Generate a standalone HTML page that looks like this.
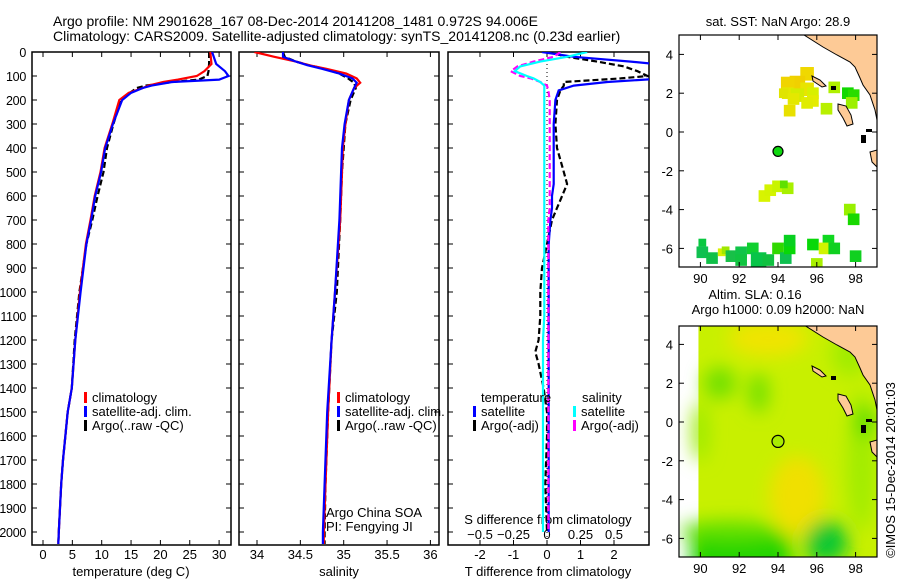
<!DOCTYPE html>
<html><head><meta charset="utf-8">
<style>
html,body{margin:0;padding:0;background:#fff;}
svg{display:block;font-family:"Liberation Sans",sans-serif;}
text{fill:#000;}
</style></head>
<body>
<svg id="fig" width="900" height="580" viewBox="0 0 900 580" xmlns="http://www.w3.org/2000/svg">
<defs>
<clipPath id="c1"><rect x="32" y="52" width="199" height="493"/></clipPath>
<clipPath id="c2"><rect x="239" y="52" width="200" height="493"/></clipPath>
<clipPath id="c3"><rect x="448" y="52" width="201" height="493"/></clipPath>
<clipPath id="cm1"><rect x="679" y="35" width="198" height="232"/></clipPath>
<clipPath id="cm2"><rect x="679" y="326" width="198" height="231"/></clipPath>
<filter id="blur" x="-50%" y="-50%" width="200%" height="200%"><feGaussianBlur stdDeviation="9"/></filter>
</defs>
<text x="53" y="26" font-size="14">Argo profile: NM 2901628_167 08-Dec-2014 20141208_1481 0.972S 94.006E</text>
<text x="53" y="41" font-size="14">Climatology: CARS2009. Satellite-adjusted climatology: synTS_20141208.nc (0.23d earlier)</text>
<g id="root"></g>
<text font-size="13" transform="translate(895,470) rotate(-90)" text-anchor="middle">©IMOS 15-Dec-2014 20:01:03</text>
</svg>
<script>
// ---- profile data (depth in m) ----
const depthT = [0,50,80,100,115,125,140,150,170,200,300,400,500,600,700,800,1000,1200,1400,1500,1700,1800,2000,2050];
const tempClim = [28.5,28.7,27.5,26.2,23,20.5,18,17,14.6,13,11.8,10.5,9.8,8.8,8.1,7.3,6.3,5.5,4.9,4.2,3.4,3.1,2.7,2.6];
const tempSat  = [28.8,29.5,31,31.6,30,22,18.5,17,15,13.5,11.9,10.6,9.9,8.9,8.2,7.4,6.4,5.5,4.9,4.2,3.4,3.1,2.7,2.6];
const tempArgo = [28.3,28.3,28.2,28,26.5,22,17.5,16,14.8,13.3,12,10.9,10.3,9.3,8.4,7.4,6.2,5.4,4.9,4.2,3.4,3.1,2.7,2.6];
const depthS = [0,20,40,55,70,90,110,128,150,200,300,400,500,700,1000,1200,1500,1800,2000,2050];
const salClim = [33.97,34.2,34.45,34.6,34.8,35.03,35.15,35.19,35.12,35.06,35.02,34.99,34.98,34.96,34.9,34.86,34.82,34.79,34.77,34.77];
const salSat  = [34.3,34.3,34.45,34.58,34.75,34.95,35.1,35.15,35.12,35.06,35.01,34.98,34.97,34.95,34.9,34.86,34.81,34.78,34.76,34.76];
const salArgo = [34.3,34.32,34.45,34.6,34.78,34.95,35.05,35.12,35.14,35.08,35.02,35.0,34.98,34.96,34.92,34.86,34.82,34.79,34.78,34.78];
const depthD = [0,20,40,60,80,100,110,125,140,160,200,300,400,450,500,550,600,650,700,800,900,1000,1100,1200,1250,1300,1400,1500,1600,1800,2000];
const dTsat  = [-0.15,0.8,2.5,4,4.5,4.5,3.5,1.8,0.8,0.35,0.25,0.2,0.2,0.2,0.2,0.2,0.15,0.15,0.1,0.05,0.05,0.05,0.05,0.05,0.05,0.05,0.05,0.05,0.05,0.05,0.05];
const dTargo = [0,0.6,1.5,2.3,2.7,3,2.2,0.5,0.5,0.4,0.3,0.25,0.3,0.4,0.5,0.6,0.45,0.3,0.15,0,-0.15,-0.2,-0.2,-0.25,-0.35,-0.25,-0.1,0,0,-0.05,0];
const dSsat  = [0.3,0.15,-0.05,-0.2,-0.24,-0.15,-0.1,-0.05,-0.02,-0.02,-0.02,-0.02,-0.02,-0.02,-0.02,-0.02,-0.02,-0.02,-0.02,-0.02,-0.02,-0.02,-0.02,-0.03,-0.03,-0.03,-0.03,-0.03,-0.03,-0.03,-0.03];
const dSargo = [0.1,0.05,-0.1,-0.22,-0.27,-0.2,-0.12,-0.05,0,0.01,0.02,0.02,0.02,0.02,0.02,0.02,0.02,0.02,0.01,0.01,0.01,0.01,0.01,0.01,0.01,0.01,0.01,0.01,0.01,0.01,0.01];
const depthTicks = [0,100,200,300,400,500,600,700,800,900,1000,1100,1200,1300,1400,1500,1600,1700,1800,1900,2000];
const tTicks = [0,5,10,15,20,25,30];
const sTicks = [34,34.5,35,35.5,36];
const dTTicks = [-2,-1,0,1,2];
const dSTicks = [-0.5,-0.25,0,0.25,0.5];
// ---- map data: SST cells [lon, lat, colour] ----
const sstLon = [95.5,95.0,94.5,95.5,94.5,95.0,94.3,94.8,95.8,95.8,94.6,95.5,96.5,96.9,97.6,97.9,97.8,93.3,93.6,94.0,94.5,94.3,97.7,97.9,90.1,90.1,90.6,91.1,91.3,91.6,92.1,92.1,92.7,93.0,93.5,94.0,94.4,94.6,94.6,95.8,96.6,96.4,96.9,98.0,96.0];
const sstLat = [3.0,2.5,2.5,2.2,2.0,1.9,2.0,1.7,2.0,1.6,1.1,1.5,1.2,2.3,2.0,1.9,1.5,-3.3,-3.0,-2.8,-2.9,-2.7,-4.0,-4.5,-5.7,-6.2,-6.5,-6.2,-6.1,-6.4,-6.2,-6.6,-6.0,-6.6,-6.6,-6.0,-6.5,-6.0,-5.6,-5.8,-5.6,-6.0,-6.0,-6.4,-6.8];
const sstCol = ["#f0d800","#f0d000","#f0d400","#e8e400","#e4e800","#d4ec00","#e0e400","#e4e800","#d8f000","#e4ec00","#e8e000","#e0ec00","#b8f000","#b0f000","#10d800","#28dc00","#9cf000","#d8f400","#d4f400","#c8f400","#a8f000","#60e000","#98f000","#18d800","#08c840","#10c050","#10c048","#d8f000","#a0e800","#18c048","#10c448","#10c440","#10d030","#08c448","#10c040","#30d800","#10c050","#08d808","#08d020","#08d808","#10d820","#d0f400","#10d020","#10d020","#a8f000"];
const sstW = [0.7,0.8,0.7,0.7,0.6,0.7,0.5,0.6,0.6,0.6,0.6,0.6,0.6,0.6,0.6,0.6,0.6,0.6,0.6,0.6,0.6,0.4,0.6,0.6,0.4,0.6,0.6,0.4,0.4,0.6,0.6,0.6,0.6,0.8,0.6,0.6,0.6,0.6,0.6,0.6,0.6,0.6,0.6,0.6,0.6];

const NS="http://www.w3.org/2000/svg";
const root=document.getElementById('root');
function el(tag,attrs,parent,txt){const e=document.createElementNS(NS,tag);for(const k in attrs)e.setAttribute(k,attrs[k]);if(txt!==undefined)e.textContent=txt;(parent||root).appendChild(e);return e;}
const yD=d=>52+d*0.24;

function panel(x0,x1,name){
  const g=el('g',{});
  
  
  const r=el('rect',{x:x0,y:52,width:x1-x0,height:493,fill:'none',stroke:'#000','stroke-width':1.5},g);
  
  
  depthTicks.forEach(d=>{
    el('line',{x1:x0,x2:x0+5,y1:yD(d),y2:yD(d),stroke:'#000'},g);
    el('line',{x1:x1-5,x2:x1,y1:yD(d),y2:yD(d),stroke:'#000'},g);
  });
  return g;
}
function line(g,xs,ys,xf,color,dash,clip,name,w){
  const pts=xs.map((v,i)=>xf(v).toFixed(1)+','+yD(ys[i]).toFixed(1)).join(' ');
  const p=el('polyline',{points:pts,fill:'none',stroke:color,'stroke-width':w||2.2,'clip-path':'url(#'+clip+')'},g);
  if(dash)p.setAttribute('stroke-dasharray',dash);
  
  
}
function legend(g,x,y,items){
  items.forEach((it,i)=>{
    el('rect',{x:x,y:y+i*14-10,width:3,height:11,fill:it[0]},g);
    const t=el('text',{x:x+8,y:y+i*14,'font-size':13},g,it[1]);
    
    
  });
}

// Panel 1 temperature
const xT=t=>43+t*5.87;
const g1=panel(32,231,'temperature-panel');
depthTicks.forEach(d=>{const t=el('text',{x:26,y:yD(d)+5,'font-size':12.5,'text-anchor':'end','letter-spacing':'-0.3'},g1,String(d));
});
tTicks.forEach(v=>{el('line',{x1:xT(v),x2:xT(v),y1:540,y2:545,stroke:'#000'},g1);el('line',{x1:xT(v),x2:xT(v),y1:52,y2:57,stroke:'#000'},g1);
el('text',{x:xT(v),y:559,'font-size':13,'text-anchor':'middle'},g1,String(v));});
const xl1=el('text',{x:131,y:576,'font-size':13,'text-anchor':'middle'},g1,'temperature (deg C)');

line(g1,tempArgo,depthT,xT,'#000','6,3','c1','argo-temp-line');
line(g1,tempClim,depthT,xT,'#f00',null,'c1','clim-temp-line');
line(g1,tempSat,depthT,xT,'#00f',null,'c1','sat-temp-line');
legend(g1,84,402,[['#f00','climatology'],['#00f','satellite-adj. clim.'],['#000','Argo(..raw -QC)']]);

// Panel 2 salinity
const xS=s=>257+(s-34)*86.7;
const g2=panel(239,439,'salinity-panel');
sTicks.forEach(v=>{el('line',{x1:xS(v),x2:xS(v),y1:540,y2:545,stroke:'#000'},g2);el('line',{x1:xS(v),x2:xS(v),y1:52,y2:57,stroke:'#000'},g2);
el('text',{x:xS(v),y:559,'font-size':13,'text-anchor':'middle'},g2,String(v));});
const xl2=el('text',{x:339,y:576,'font-size':13,'text-anchor':'middle'},g2,'salinity');

line(g2,salArgo,depthS,xS,'#000','6,3','c2','argo-sal-line');
line(g2,salClim,depthS,xS,'#f00',null,'c2','clim-sal-line');
line(g2,salSat,depthS,xS,'#00f',null,'c2','sat-sal-line');
legend(g2,337,402,[['#f00','climatology'],['#00f','satellite-adj. clim.'],['#000','Argo(..raw -QC)']]);
el('text',{x:326,y:517,'font-size':13},g2,'Argo China SOA');
el('text',{x:326,y:531,'font-size':13},g2,'PI: Fengying JI');

// Panel 3 differences
const xDT=v=>547+v*33.5;
const xDS=v=>547+v*134;
const g3=panel(448,649,'difference-panel');
dTTicks.forEach(v=>{el('line',{x1:xDT(v),x2:xDT(v),y1:540,y2:545,stroke:'#000'},g3);el('line',{x1:xDT(v),x2:xDT(v),y1:52,y2:57,stroke:'#000'},g3);
el('text',{x:xDT(v),y:559,'font-size':13,'text-anchor':'middle'},g3,String(v));});
dSTicks.forEach(v=>{el('text',{x:xDS(v),y:539,'font-size':13,'text-anchor':'middle'},g3,String(v).replace('-','−'));});
el('text',{x:548,y:524,'font-size':13,'text-anchor':'middle'},g3,'S difference from climatology');
const xl3=el('text',{x:548,y:576,'font-size':13,'text-anchor':'middle'},g3,'T difference from climatology');

el('line',{x1:547,x2:547,y1:52,y2:545,stroke:'#000','stroke-dasharray':'1,3'},g3);
line(g3,dTargo,depthD,xDT,'#000','6,3','c3','argo-tdiff-line');
line(g3,dTsat,depthD,xDT,'#00f',null,'c3','sat-tdiff-line');
line(g3,dSargo,depthD,xDS,'#f0f','6,3','c3','argo-sdiff-line');
line(g3,dSsat,depthD,xDS,'#0ff',null,'c3','sat-sdiff-line');
el('text',{x:481,y:402,'font-size':13},g3,'temperature');
el('text',{x:582,y:402,'font-size':13},g3,'salinity');
legend(g3,473,416,[['#00f','satellite'],['#000','Argo(-adj)']]);
legend(g3,573,416,[['#0ff','satellite'],['#f0f','Argo(-adj)']]);

// ---- Maps ----
const mX=lon=>700.4+(lon-90)*19.4;
function land(g,off,clip){
  const pts=[[804,35],[823,47],[837,55],[850,62],[855,67],[860,78],[863,85],[870,95],[875,110],[877,120],[877,35]];
  el('polygon',{points:pts.map(p=>p[0]+','+(p[1]+off)).join(' '),fill:'#fdca96',stroke:'#000','stroke-width':1,'clip-path':'url(#'+clip+')'},g);
  el('polygon',{points:[[838,104],[846,106],[851,115],[853,124],[847,126],[843,118],[838,110]].map(p=>p[0]+','+(p[1]+off)).join(' '),fill:'#fdca96',stroke:'#000'},g);
  el('polygon',{points:[[870,152],[877,150],[877,167],[872,162]].map(p=>p[0]+','+(p[1]+off)).join(' '),fill:'#fdca96',stroke:'#000'},g);
  el('polygon',{points:[[812,76],[820,80],[826,86],[822,87],[813,81]].map(p=>p[0]+','+(p[1]+off)).join(' '),fill:'#fdca96',stroke:'#000'},g);
  el('rect',{x:831,y:86+off,width:5,height:4,fill:'#000'},g);
  el('rect',{x:861,y:135+off,width:5,height:8,fill:'#000'},g);
  el('rect',{x:866,y:129+off,width:6,height:3,fill:'#000'},g);
}
function mapAxes(g,top,lat0,name){
  const fr=el('rect',{x:679,y:top,width:198,height:name==='sst-map'?232:231,fill:'none',stroke:'#000','stroke-width':1.2},g);
  
  [4,2,0,-2,-4,-6].forEach(v=>{const y=lat0-v*19.4;
    el('line',{x1:679,x2:684,y1:y,y2:y,stroke:'#000'},g);el('line',{x1:872,x2:877,y1:y,y2:y,stroke:'#000'},g);
    el('text',{x:673,y:y+5,'font-size':13,'text-anchor':'end'},g,String(v));});
  const bot=top+(name==='sst-map'?232:231);
  [90,92,94,96,98].forEach(v=>{const x=mX(v);
    el('line',{x1:x,x2:x,y1:bot-5,y2:bot,stroke:'#000'},g);el('line',{x1:x,x2:x,y1:top,y2:top+5,stroke:'#000'},g);
    el('text',{x:x,y:bot+16,'font-size':13,'text-anchor':'middle'},g,String(v));});
}
// SST map
const gm1=el('g',{});


const mY1=lat=>132-lat*19.4;
sstLon.forEach((lon,i)=>{const w=sstW[i]*19.4;
  const r=el('rect',{x:mX(lon)-w/2,y:mY1(sstLat[i])-w/2,width:w,height:w,fill:sstCol[i],'clip-path':'url(#cm1)'},gm1);
  });
land(gm1,0,'cm1');
el('circle',{cx:mX(94),cy:mY1(-1),r:5,fill:'#10d810',stroke:'#000','stroke-width':1.2},gm1);
mapAxes(gm1,35,132,'sst-map');
el('text',{x:778,y:26,'font-size':13,'text-anchor':'middle'},gm1,'sat. SST: NaN Argo: 28.9');

// SLA map
const gm2=el('g',{});


const mY2=lat=>422-lat*19.4;
const gf=el('g',{'clip-path':'url(#cm2)'},gm2);
el('rect',{x:mX(89.9),y:326,width:200,height:231,fill:'#c8f000'},gf);
const gb=el('g',{filter:'url(#blur)'},gf);
el('ellipse',{cx:mX(93.5),cy:mY2(4.3),rx:40,ry:18,fill:'#f0e400'},gb);
el('ellipse',{cx:mX(95),cy:mY2(-3.8),rx:28,ry:40,fill:'#f0e000'},gb);
el('ellipse',{cx:mX(91),cy:mY2(2),rx:16,ry:16,fill:'#70e000'},gb);
el('ellipse',{cx:mX(93),cy:mY2(1.5),rx:10,ry:20,fill:'#70e000'},gb);
el('ellipse',{cx:mX(90),cy:mY2(-0.5),rx:8,ry:30,fill:'#98ea00'},gb);
el('ellipse',{cx:mX(98.3),cy:mY2(-2),rx:14,ry:70,fill:'#a0ec00'},gb);
el('ellipse',{cx:mX(98.5),cy:mY2(0),rx:8,ry:16,fill:'#30d800'},gb);
el('ellipse',{cx:mX(97.7),cy:mY2(3.5),rx:18,ry:22,fill:'#a0ec00'},gb);
el('rect',{x:mX(89.5),y:mY2(-5.8),width:100,height:40,fill:'#20d400'},gb);
el('ellipse',{cx:mX(96.5),cy:mY2(-6.2),rx:22,ry:22,fill:'#10c830'},gb);
el('ellipse',{cx:mX(91.5),cy:mY2(-5.6),rx:50,ry:10,fill:'#60e000'},gb);
land(gm2,290,'cm2');
el('circle',{cx:mX(94),cy:mY2(-1),r:6,fill:'#a8ec00',stroke:'#000','stroke-width':1.2},gm2);
mapAxes(gm2,326,422,'sla-map');
el('text',{x:755,y:299,'font-size':13,'text-anchor':'middle'},gm2,'Altim. SLA: 0.16');
el('text',{x:778,y:314,'font-size':13,'text-anchor':'middle'},gm2,'Argo h1000: 0.09 h2000: NaN');
</script>
</body></html>
